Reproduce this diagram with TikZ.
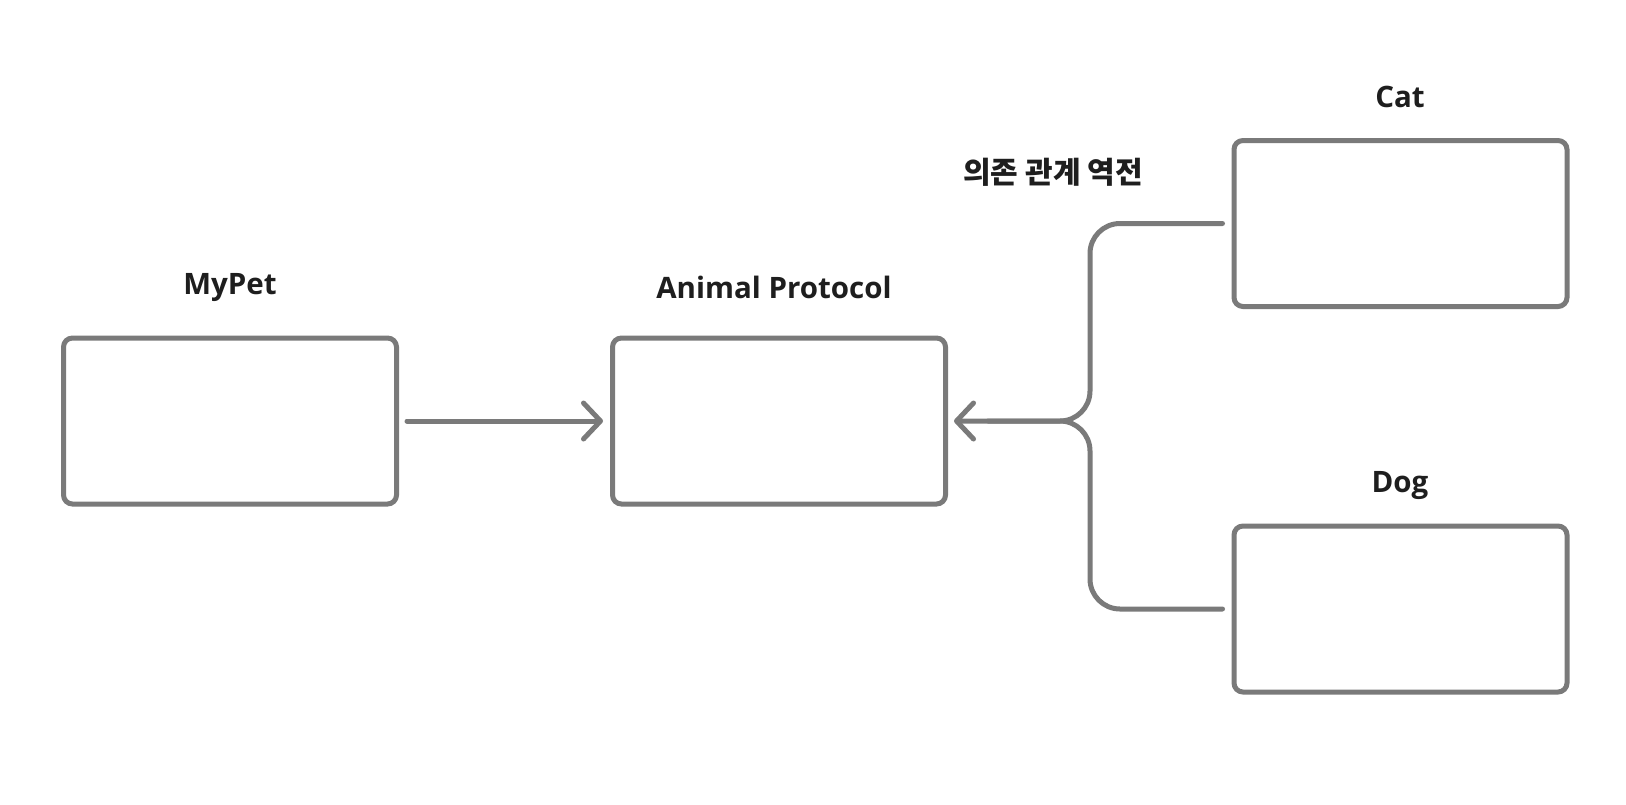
\documentclass[tikz,border=0pt]{standalone}
\usepackage{fontspec}
\setmainfont{Open Sans}
\newfontfamily\krfont{Noto Sans CJK KR}
\usetikzlibrary{arrows.meta}
\definecolor{lineg}{HTML}{7A7A7A}
\definecolor{textc}{HTML}{1E1E1E}
\begin{document}
\begin{tikzpicture}[x=1pt,y=-1pt,
  box/.style={draw=lineg, line width=5pt, rounded corners=9pt, minimum width=333pt, minimum height=166pt, inner sep=0pt},
  lbl/.style={text=textc, font=\fontsize{29.5}{34}\selectfont\bfseries, inner sep=0pt},
  conn/.style={draw=lineg, line width=5pt, line cap=round, line join=round},
  tip/.style={-{Straight Barb[length=17pt,width=36pt,round]}}
]
\useasboundingbox[fill=white] (0,0) rectangle (1626,804);
\node[box] (mypet) at (230,421) {};
\node[box] (animal) at (779,421) {};
\node[box] (cat) at (1400.5,223.5) {};
\node[box] (dog) at (1400.5,609) {};
\node[lbl] (lmypet) at (230,288) {MyPet};
\node[lbl] (lanimal) at (774,287) {Animal Protocol};
\node[lbl] (lcat) at (1400,97) {Cat};
\node[lbl] (ldog) at (1400,486) {Dog};
\node[lbl, font=\fontsize{30}{34}\selectfont\krfont\bfseries] (linv) at (1053,172) {의존 관계 역전};
\coordinate (j) at (1090,421);
\draw[conn, tip] ([xshift=8pt]mypet.east) -- ([xshift=-7pt]animal.west);
\draw[conn, rounded corners=30pt] ([xshift=-9pt]dog.west) -| (j) -- ([xshift=40pt]animal.east);
\draw[conn, tip, rounded corners=30pt] ([xshift=-9pt]cat.west) -| (j) -- ([xshift=6pt]animal.east);
\end{tikzpicture}
\end{document}
